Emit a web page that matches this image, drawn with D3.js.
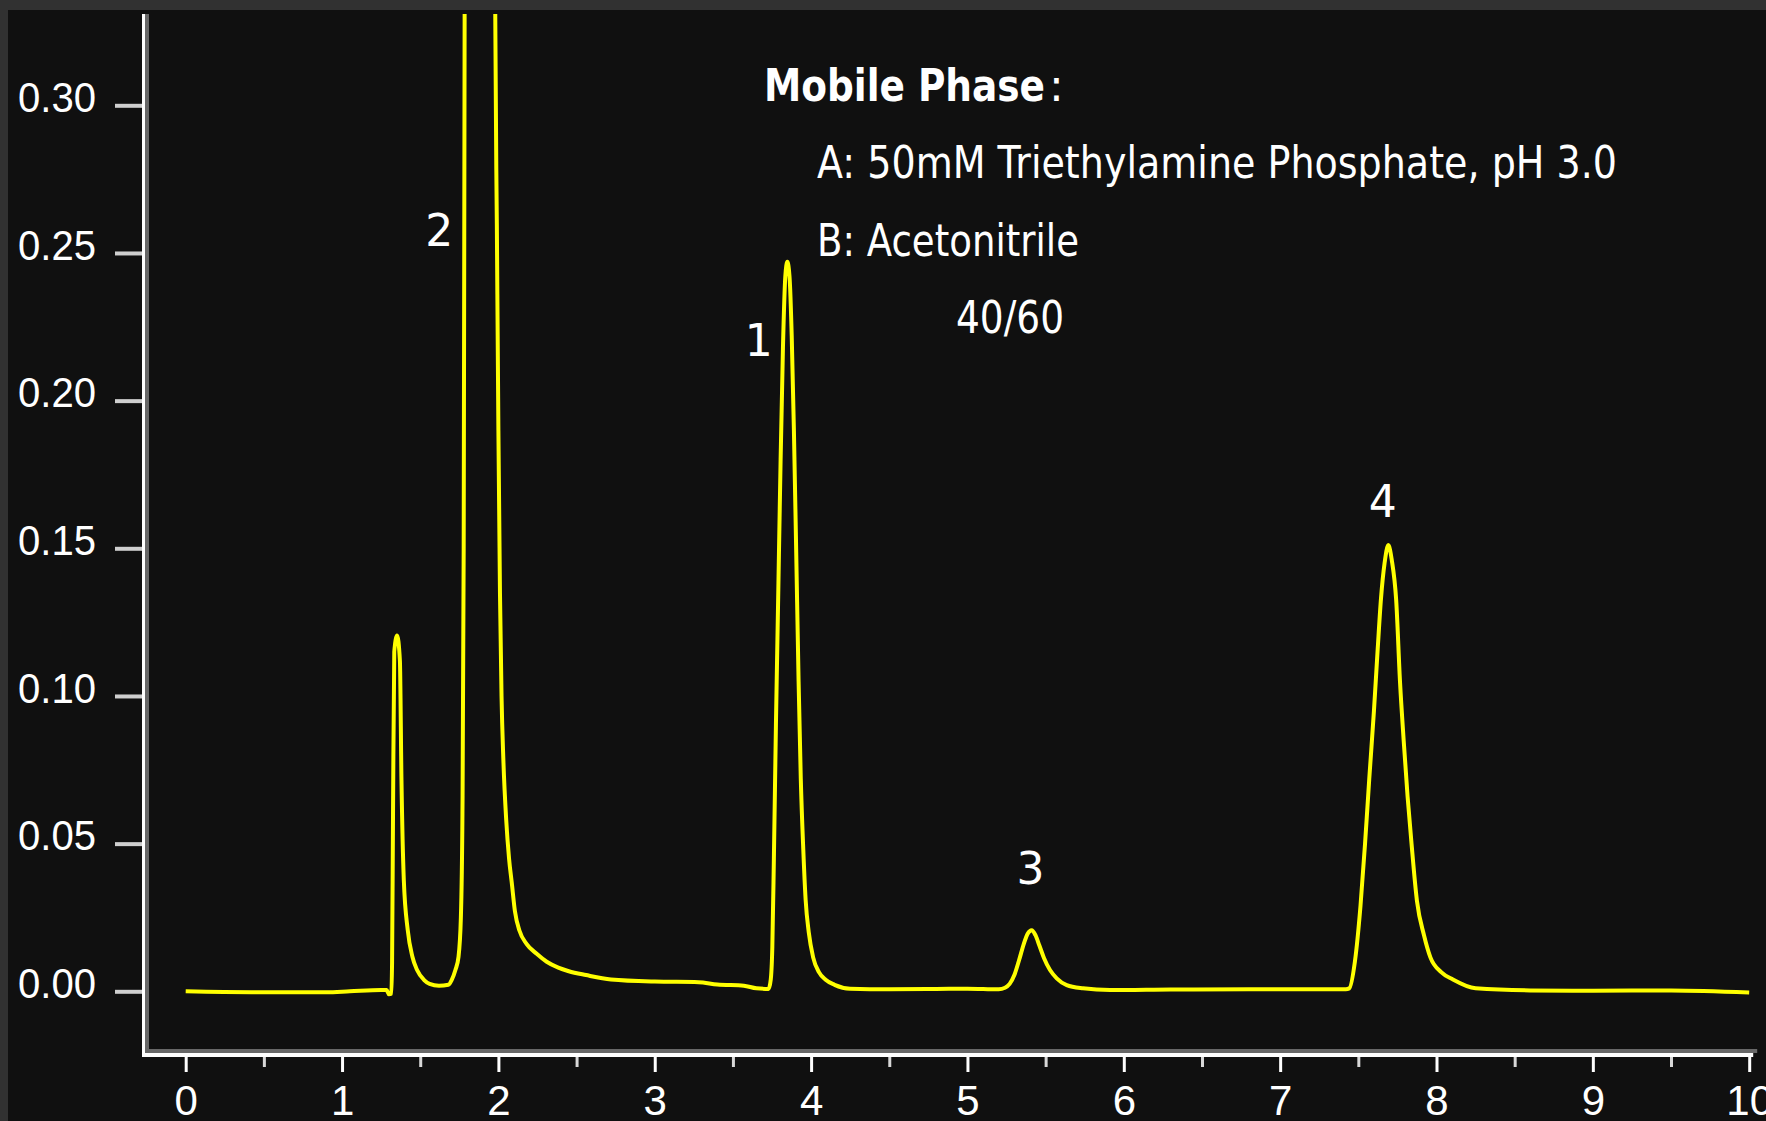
<!DOCTYPE html>
<meta charset="utf-8">
<script src="https://d3js.org/d3.v7.min.js"></script>
<title>Chromatogram</title>
<style>

body {
  margin: 0;
  background: #313131;
}
svg {
  display: block;
}
.axis text {
  font-family: "Liberation Sans", Arial, sans-serif;
  font-size: 42px;
  fill: #fff;
}
.note {
  font-family: "DejaVu Sans", Verdana, sans-serif;
  font-size: 44px;
  fill: #fff;
}

</style>
<svg width="1766" height="1121"></svg>
<script>

// retention time (min) and detector response (AU)
var timeMin = [
  0.000, 0.420, 0.900, 1.050, 1.250, 1.285, 1.300, 1.315, 1.320, 1.326,
  1.334, 1.352, 1.370, 1.380, 1.395, 1.420, 1.450, 1.480, 1.525, 1.560,
  1.620, 1.680, 1.701, 1.725, 1.745, 1.760, 1.770, 1.778, 1.784, 1.792,
  1.820, 1.880, 1.940, 1.972, 1.980, 1.990, 2.000, 2.010, 2.020, 2.032,
  2.050, 2.068, 2.085, 2.106, 2.135, 2.181, 2.245, 2.309, 2.383, 2.450,
  2.560, 2.720, 3.000, 3.280, 3.400, 3.570, 3.650, 3.728, 3.742, 3.752,
  3.762, 3.775, 3.790, 3.805, 3.820, 3.835, 3.848, 3.862, 3.876, 3.890,
  3.905, 3.920, 3.934, 3.950, 3.965, 3.985, 4.013, 4.050, 4.093, 4.150,
  4.250, 4.500, 4.800, 5.000, 5.200, 5.240, 5.270, 5.300, 5.330, 5.360,
  5.385, 5.411, 5.435, 5.460, 5.490, 5.528, 5.571, 5.635, 5.739, 5.912,
  6.300, 6.800, 7.200, 7.420, 7.442, 7.478, 7.514, 7.543, 7.570, 7.600,
  7.624, 7.645, 7.668, 7.692, 7.714, 7.742, 7.767, 7.790, 7.815, 7.839,
  7.875, 7.920, 7.961, 8.030, 8.105, 8.250, 8.600, 9.000, 9.500, 10.000
];
var absorbance = [
  0.0000, -0.0003, -0.0003, 0.0000, 0.0004, 0.0004, -0.0010, -0.0008, 0.0100, 0.0600,
  0.1150, 0.1205, 0.1120, 0.0716, 0.0377, 0.0208, 0.0117, 0.0072, 0.0038, 0.0025,
  0.0019, 0.0022, 0.0038, 0.0072, 0.0117, 0.0250, 0.0600, 0.1500, 0.3300, 0.6000,
  1.0000, 1.1000, 1.0000, 0.6000, 0.3300, 0.2600, 0.1900, 0.1350, 0.1000, 0.0780,
  0.0580, 0.0450, 0.0370, 0.0270, 0.0205, 0.0160, 0.0127, 0.0100, 0.0080, 0.0068,
  0.0055, 0.0040, 0.0033, 0.0031, 0.0023, 0.0019, 0.0010, 0.0008, 0.0040, 0.0150,
  0.0450, 0.0900, 0.1350, 0.1800, 0.2180, 0.2420, 0.2470, 0.2420, 0.2220, 0.1900,
  0.1480, 0.1050, 0.0720, 0.0480, 0.0310, 0.0200, 0.0115, 0.0065, 0.0039, 0.0022,
  0.0009, 0.0007, 0.0008, 0.0009, 0.0007, 0.0012, 0.0025, 0.0055, 0.0105, 0.0160,
  0.0195, 0.0207, 0.0190, 0.0155, 0.0112, 0.0072, 0.0044, 0.0021, 0.0010, 0.0004,
  0.0006, 0.0007, 0.0007, 0.0007, 0.0010, 0.0100, 0.0290, 0.0500, 0.0720, 0.0950,
  0.1160, 0.1330, 0.1450, 0.1511, 0.1460, 0.1325, 0.1044, 0.0850, 0.0660, 0.0508,
  0.0306, 0.0190, 0.0115, 0.0065, 0.0040, 0.0010, 0.0003, 0.0002, 0.0003, -0.0004
];

var xTicks = [0, 1, 2, 3, 4, 5, 6, 7, 8, 9, 10];
var xMinorTicks = [0.5, 1.5, 2.5, 3.5, 4.5, 5.5, 6.5, 7.5, 8.5, 9.5];
var yTicks = [0, 0.05, 0.10, 0.15, 0.20, 0.25, 0.30];

// peak numbers, placed at (time, absorbance)
var peakNames = ["2", "1", "3", "4"];
var peakTimes = [1.621, 3.665, 5.404, 7.656];
var peakLabelAbs = [0.2524, 0.2151, 0.0362, 0.1607];

var phaseTitle = "Mobile Phase";
var phaseLines = ["A: 50mM Triethylamine Phosphate, pH 3.0", "B: Acetonitrile"];
var phaseRatio = "40/60";

var svg = d3.select("svg"),
    width = +svg.attr("width"),
    height = +svg.attr("height");

var plotTop = 14, axisX = 142, axisY = 1057;

var x = d3.scaleLinear().domain([0, 10]).range([185.7, 1749.2]);
var y = d3.scaleLinear().domain([0, 0.30]).range([991.3, 105.3]);

// dark panel on the grey frame
svg.append("rect")
    .attr("x", 8).attr("y", 10)
    .attr("width", width - 8).attr("height", height - 10)
    .attr("fill", "#101010");

svg.append("clipPath")
    .attr("id", "plot-clip")
  .append("rect")
    .attr("x", axisX + 7).attr("y", plotTop)
    .attr("width", width - axisX - 7).attr("height", axisY - 8 - plotTop);

// x axis: integer ticks with labels, half ticks without
var xAxis = svg.append("g")
    .attr("class", "axis")
    .attr("transform", "translate(0," + axisY + ")")
    .call(d3.axisBottom(x).tickValues(xTicks).tickSize(15).tickPadding(13).tickFormat(d3.format("d")));
xAxis.select(".domain").remove();
xAxis.selectAll("line").attr("stroke", "#fff").attr("stroke-width", 3);

var xMinor = svg.append("g")
    .attr("transform", "translate(0," + axisY + ")")
    .call(d3.axisBottom(x).tickValues(xMinorTicks).tickSize(10).tickFormat(""));
xMinor.select(".domain").remove();
xMinor.selectAll("line").attr("stroke", "#d8d8d8").attr("stroke-width", 3);

// y axis
var yAxis = svg.append("g")
    .attr("class", "axis")
    .attr("transform", "translate(" + axisX + ",0)")
    .call(d3.axisLeft(y).tickValues(yTicks).tickSize(27).tickPadding(19).tickFormat(d3.format(".2f")));
yAxis.select(".domain").remove();
yAxis.selectAll("line").attr("stroke", "#cfcfcf").attr("stroke-width", 4);
yAxis.selectAll("text")
    .attr("dy", "0.15em")
    .attr("textLength", 78)
    .attr("lengthAdjust", "spacingAndGlyphs");

// double-edged axis lines (white + grey)
svg.append("rect").attr("x", axisX + 3).attr("y", plotTop)
    .attr("width", 4).attr("height", axisY - plotTop - 4).attr("fill", "#686868");
svg.append("rect").attr("x", axisX + 3).attr("y", axisY - 8)
    .attr("width", x.range()[1] + 8 - axisX - 3).attr("height", 4).attr("fill", "#686868");
svg.append("rect").attr("x", axisX).attr("y", plotTop)
    .attr("width", 3).attr("height", axisY - plotTop).attr("fill", "#fff");
svg.append("rect").attr("x", axisX).attr("y", axisY - 4)
    .attr("width", x.range()[1] + 4 - axisX).attr("height", 4).attr("fill", "#fff");

// the trace
var line = d3.line()
    .x(function(d, i) { return x(timeMin[i]); })
    .y(function(d) { return y(d); })
    .curve(d3.curveMonotoneX);

svg.append("path")
    .datum(absorbance)
    .attr("clip-path", "url(#plot-clip)")
    .attr("fill", "none")
    .attr("stroke", "#ffff00")
    .attr("stroke-width", 4)
    .attr("stroke-linejoin", "round")
    .attr("d", line);

// peak numbers
svg.selectAll(".peak")
  .data(peakNames)
  .join("text")
    .attr("class", "note peak")
    .attr("text-anchor", "middle")
    .attr("x", function(d, i) { return x(peakTimes[i]); })
    .attr("y", function(d, i) { return y(peakLabelAbs[i]); })
    .text(function(d) { return d; });

// mobile phase note
svg.append("text")
    .attr("class", "note")
    .attr("x", 764).attr("y", 101)
    .attr("font-weight", "bold")
    .attr("textLength", 281).attr("lengthAdjust", "spacingAndGlyphs")
    .text(phaseTitle);
svg.append("text")
    .attr("class", "note")
    .attr("x", 1049).attr("y", 101)
    .text(":");

var lineWidths = [800, 262];
svg.selectAll(".phase")
  .data(phaseLines)
  .join("text")
    .attr("class", "note phase")
    .attr("x", 817)
    .attr("y", function(d, i) { return 178 + i * 77.5; })
    .attr("textLength", function(d, i) { return lineWidths[i]; })
    .attr("lengthAdjust", "spacingAndGlyphs")
    .text(function(d) { return d; });

svg.append("text")
    .attr("class", "note")
    .attr("x", 956).attr("y", 333)
    .attr("textLength", 108).attr("lengthAdjust", "spacingAndGlyphs")
    .text(phaseRatio);

</script>
